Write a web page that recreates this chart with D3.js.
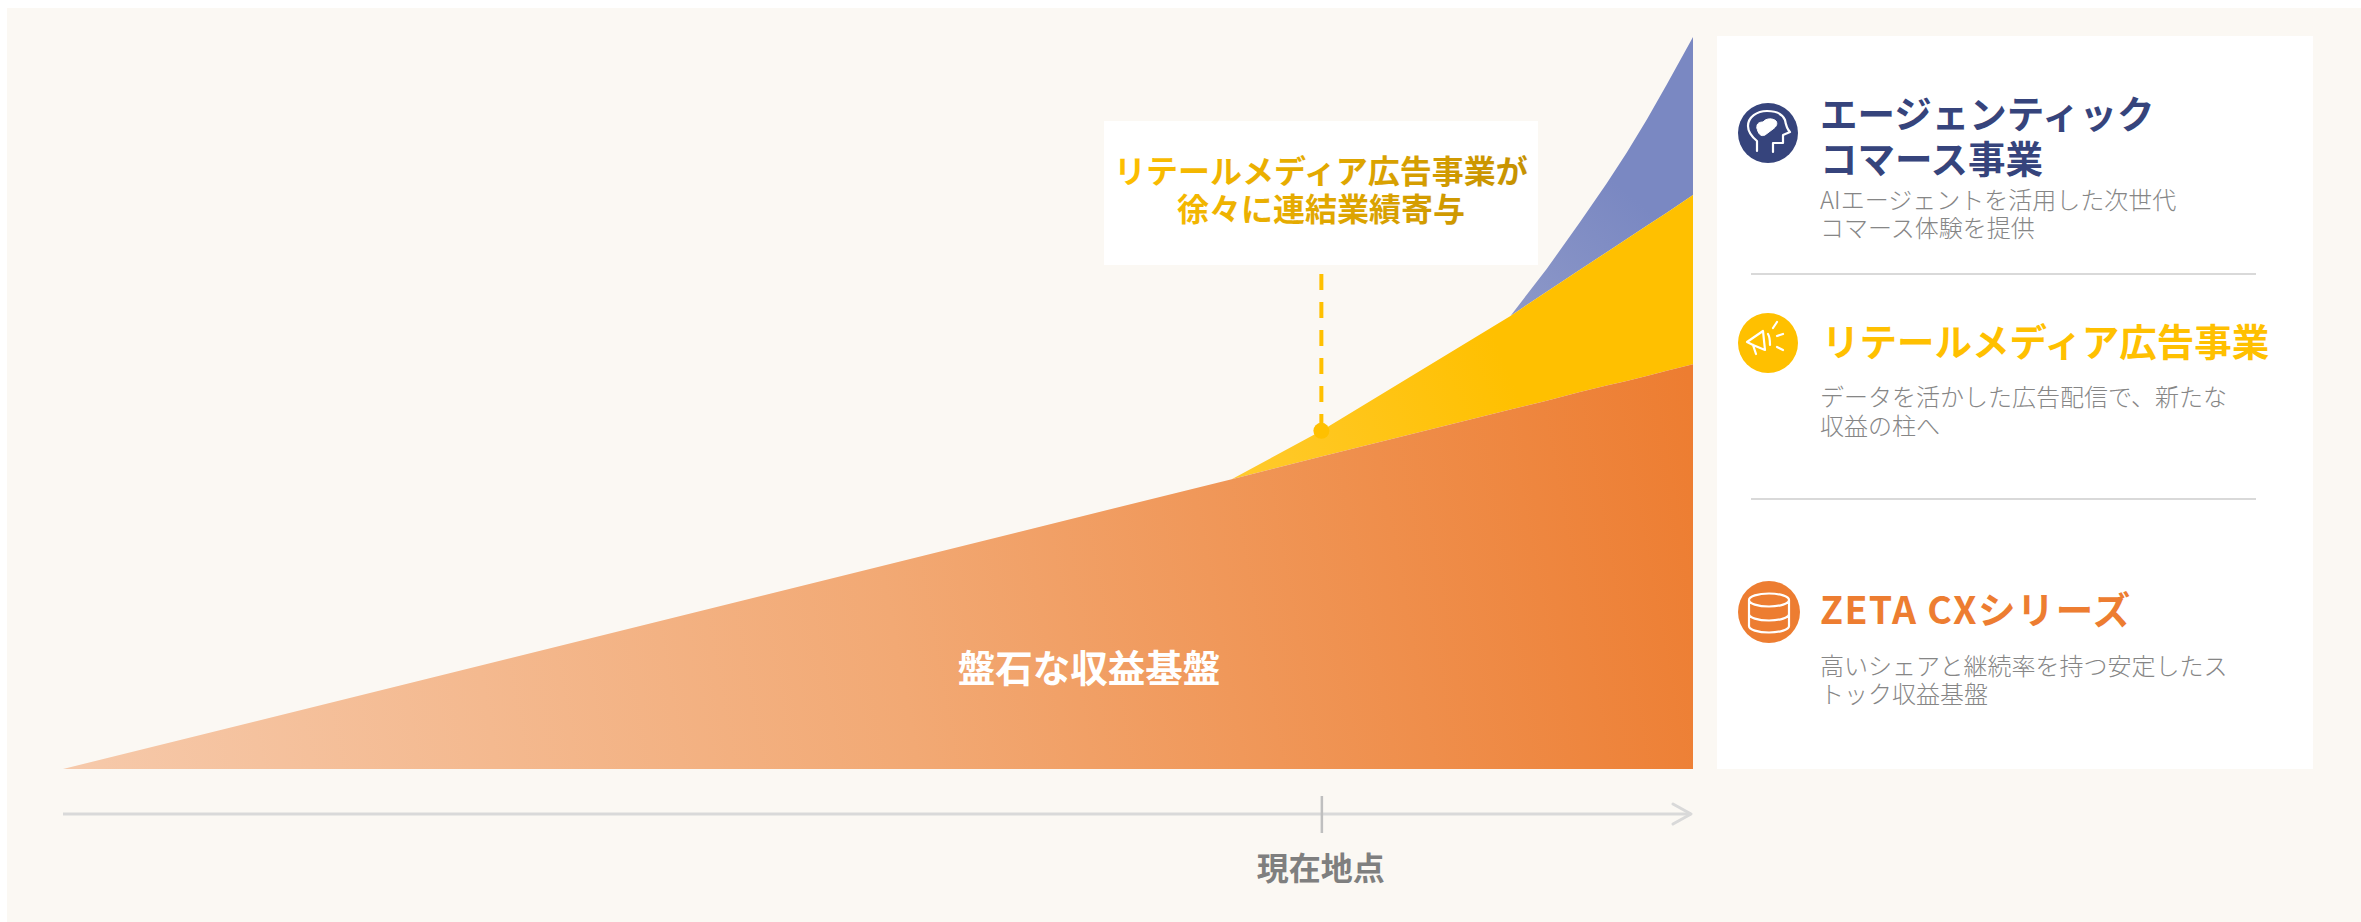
<!DOCTYPE html>
<html lang="ja">
<head>
<meta charset="utf-8">
<title>収益基盤の成長イメージ</title>
<script src="https://cdn.jsdelivr.net/npm/d3@7/dist/d3.min.js"></script>
<style>
  html, body { margin: 0; padding: 0; background: #ffffff; }
  svg { display: block; }
  text { font-family: "Noto Sans CJK JP", "Noto Sans", sans-serif; }
</style>
</head>
<body>
<svg id="chart" width="2361" height="922"></svg>
<script>
// Timeline positions (percent of the horizontal axis)
const periods = [0, 71.7, 77.2, 88.8, 91.02, 93.06, 94.7, 95.93, 97.16, 98.39, 100];
// Revenue layers, bottom to top
const zetaValues    = [0, 39.6, 42.7, 49.1, 50.3, 51.5, 52.4, 53.0, 53.7, 54.4, 55.3];
const retailValues  = [0, 0, 3.5, 12.8, 14.9, 16.7, 18.2, 19.4, 20.5, 21.6, 23.1];
const agenticValues = [0, 0, 0, 0, 3.1, 6.5, 9.4, 11.8, 14.5, 17.5, 21.6];
const layerKeys = ["zeta", "retail", "agentic"];
const currentPeriod = 77.2;

const areaLabel = "盤石な収益基盤";
const axisLabel = "現在地点";
const calloutLines = ["リテールメディア広告事業が", "徐々に連結業績寄与"];

const legendTitles = [["エージェンティック", "コマース事業"], ["リテールメディア広告事業"], ["ZETA CXシリーズ"]];
const legendNotes = [
  ["AIエージェントを活用した次世代", "コマース体験を提供"],
  ["データを活かした広告配信で、新たな", "収益の柱へ"],
  ["高いシェアと継続率を持つ安定したス", "トック収益基盤"]
];
const legendColors = ["#36447c", "#ffc000", "#ed7d31"];

const svg = d3.select("#chart");
const defs = svg.append("defs");

const x = d3.scaleLinear().domain([0, 100]).range([63, 1693]);
const y = d3.scaleLinear().domain([0, 100]).range([769, 37]);

function gradient(id, x1, y1, x2, y2, stops) {
  const g = defs.append("linearGradient").attr("id", id)
    .attr("gradientUnits", "userSpaceOnUse")
    .attr("x1", x1).attr("y1", y1).attr("x2", x2).attr("y2", y2);
  stops.forEach(([o, c]) => g.append("stop").attr("offset", o).attr("stop-color", c));
}
gradient("fill-zeta", 63, 700, 1693, 400, [[0, "#f6c9aa"], [0.5, "#f2a974"], [1, "#ed7d31"]]);
gradient("fill-retail", 1232, 480, 1693, 300, [[0, "#ffca2e"], [0.6, "#ffc000"], [1, "#ffc000"]]);
gradient("fill-agentic", 1510, 316, 1693, 100, [[0, "#8d98c8"], [0.6, "#7a88c2"], [1, "#7a88c2"]]);
gradient("fill-callout", 1117, 150, 1527, 230, [[0, "#ffc000"], [1, "#c49000"]]);

// Page panel
svg.append("rect").attr("x", 7).attr("y", 8).attr("width", 2354).attr("height", 914).attr("fill", "#fbf8f3");

// Stacked revenue layers
const rows = periods.map((p, i) => ({
  period: p, zeta: zetaValues[i], retail: retailValues[i], agentic: agenticValues[i]
}));
const stacked = d3.stack().keys(layerKeys)(rows);
const area = d3.area()
  .x(d => x(d.data.period))
  .y0(d => y(d[0]))
  .y1(d => y(d[1]));
svg.append("g").selectAll("path").data(stacked.slice().reverse()).join("path")
  .attr("d", area)
  .attr("fill", d => `url(#fill-${d.key})`);

svg.append("text").attr("x", 1089).attr("y", 665).attr("text-anchor", "middle")
  .attr("dominant-baseline", "central")
  .attr("font-size", 37.5).attr("font-weight", 700).attr("fill", "#ffffff").text(areaLabel);

// Time axis with the single "current position" tick
const axis = d3.axisBottom(x).tickValues([currentPeriod]).tickFormat(() => axisLabel).tickSizeOuter(0).tickSizeInner(19);
const axisG = svg.append("g").attr("transform", "translate(0,814)").call(axis);
axisG.select(".domain").attr("stroke", "#d9d9d9").attr("stroke-width", 3).attr("d", `M${x(0)},0H${x(100) - 2}`);
axisG.selectAll(".tick line").attr("y1", -18).attr("stroke", "#bfbfbf").attr("stroke-width", 2.5);
axisG.selectAll(".tick text").attr("x", -1).attr("y", 52).attr("dy", 0).attr("dominant-baseline", "central")
  .attr("font-size", 32).attr("font-weight", 700).attr("fill", "#7f7f7f")
  .style("font-family", '"Noto Sans CJK JP", sans-serif');
axisG.append("path").attr("d", `M${x(100) - 20},-10L${x(100) - 2},0L${x(100) - 20},10`)
  .attr("fill", "none").attr("stroke", "#d9d9d9").attr("stroke-width", 3).attr("stroke-linejoin", "round").attr("stroke-linecap", "round");

// Callout for the retail media layer
const currentIndex = periods.indexOf(currentPeriod);
const currentTop = zetaValues[currentIndex] + retailValues[currentIndex];
svg.append("rect").attr("x", 1104).attr("y", 121).attr("width", 434).attr("height", 144).attr("fill", "#ffffff");
svg.append("text").attr("text-anchor", "middle").attr("font-size", 32).attr("font-weight", 700)
  .attr("fill", "url(#fill-callout)")
  .selectAll("tspan").data(calloutLines).join("tspan")
  .attr("x", 1321).attr("y", (d, i) => 169 + i * 38).attr("dominant-baseline", "central").text(d => d);
svg.append("line").attr("x1", x(currentPeriod)).attr("x2", x(currentPeriod)).attr("y1", 274).attr("y2", y(currentTop))
  .attr("stroke", "#ffc000").attr("stroke-width", 4).attr("stroke-dasharray", "16 12");
svg.append("circle").attr("cx", x(currentPeriod)).attr("cy", y(currentTop)).attr("r", 8).attr("fill", "#ffc000");

// Legend panel
svg.append("rect").attr("x", 1717).attr("y", 36).attr("width", 596).attr("height", 733).attr("fill", "#ffffff");
svg.selectAll("line.sep").data([274, 499]).join("line").attr("class", "sep")
  .attr("x1", 1751).attr("x2", 2256).attr("y1", d => d).attr("y2", d => d)
  .attr("stroke", "#d9d9d9").attr("stroke-width", 2);

const iconCenters = [[1768, 133], [1768, 343], [1769, 612]];
const titleRows = [[111, 156], [339], [607]];
const noteRows = [[198, 226], [395, 424], [664, 692]];
const iconRadius = [30, 30, 31];

legendColors.forEach((color, i) => {
  const [cx, cy] = iconCenters[i];
  svg.append("circle").attr("cx", cx).attr("cy", cy).attr("r", iconRadius[i]).attr("fill", color);
  const glyph = svg.append("g").attr("transform", `translate(${cx},${cy})`)
    .attr("fill", "none").attr("stroke", "#ffffff").attr("stroke-width", 2.2).attr("stroke-linecap", "round").attr("stroke-linejoin", "round");
  if (i === 0) {
    // Head in profile with a highlighted brain
    glyph.append("path").attr("d", "M-11,18V8C-17,3 -20,-2 -20,-7C-20,-16 -11,-22 -1,-22C9,-22 15,-18 17,-13C18,-7 19,-4 22,-1L15,2V10H5V19");
    glyph.append("path").attr("fill", "#ffffff").attr("stroke-width", 1).attr("d", "M-11,-5C-12,-10 -8,-11 -5,-11C-2,-15 5,-15 8,-12C10,-9 8,-6 5,-4C2,-2 0,0 -3,2C-7,4 -10,1 -11,-5Z");
  } else if (i === 1) {
    // Megaphone with sound lines
    glyph.append("path").attr("d", "M-21,-1L-5,-12L-3,7L-15,2ZM-15,2L-12,11");
    glyph.append("path").attr("d", "M0,-9C2,-6 2,-2 2,2M5,-15L9,-21M9,-7L15,-9M9,4L15,7");
  } else {
    // Database cylinder
    glyph.append("path").attr("d", "M-20,-12A20,6.5 0 1 1 20,-12V14A20,6.5 0 1 1 -20,14ZM-20,-12A20,6.5 0 0 0 20,-12M-20,2A20,6.5 0 0 0 20,2");
  }
  svg.append("g").attr("font-size", 37.5).attr("font-weight", 700).attr("fill", color)
    .attr("letter-spacing", i === 2 ? 1.4 : 0)
    .selectAll("text").data(legendTitles[i]).join("text")
    .attr("x", i === 1 ? 1822 : 1820).attr("y", (d, k) => titleRows[i][k]).attr("dominant-baseline", "central").text(d => d);
  svg.append("g").attr("font-size", 24).attr("font-weight", 300).attr("fill", "#868686")
    .selectAll("text").data(legendNotes[i]).join("text")
    .attr("x", 1820).attr("y", (d, k) => noteRows[i][k]).attr("dominant-baseline", "central").text(d => d);
});
</script>
</body>
</html>
